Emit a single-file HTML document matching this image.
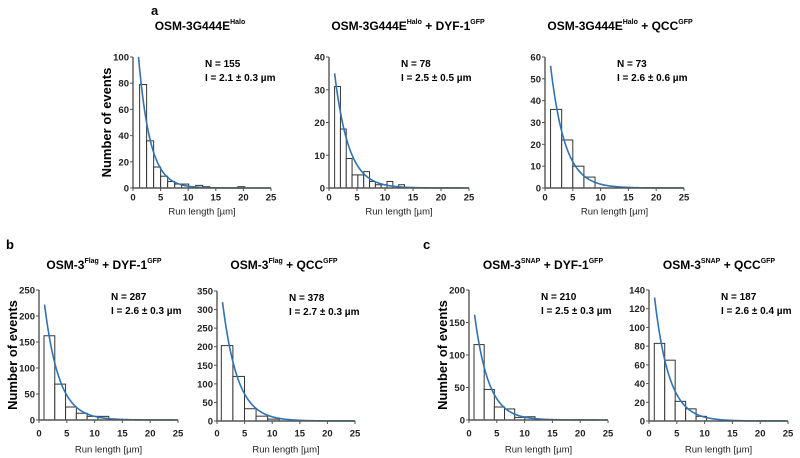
<!DOCTYPE html>
<html><head><meta charset="utf-8">
<style>
html,body{margin:0;padding:0;background:#fff;}
svg{display:block;font-family:"Liberation Sans",Arial,sans-serif;}
</style></head>
<body>
<svg id="fig" width="800" height="458" viewBox="0 0 800 458" xmlns="http://www.w3.org/2000/svg">
<text x="151" y="15" font-size="13" font-weight="bold">a</text>
<text x="6" y="249" font-size="13" font-weight="bold">b</text>
<text x="423" y="249" font-size="13" font-weight="bold">c</text>
</svg>
<script>
// ---- data ----
const panelIds = ["a1","a2","a3","b1","b2","c1","c2"];
const binStarts = [1.2, 1.0, 1.0, 0.9, 0.78, 0.9, 0.95];
const binWidths = [1.27, 1.04, 2.0, 1.94, 2.1, 1.83, 1.88];
const countsA1 = [79,36,16,9,5,3,3,1,2,1,0,0,0,0,1];
const countsA2 = [31,18,9,4,4,5,2,1,1,2,0,1];
const countsA3 = [36,22,10,5];
const countsB1 = [162,69,25,13,7,7];
const countsB2 = [203,120,33,13,5];
const countsC1 = [116,47,20,17,4,5];
const countsC2 = [83,65,21,13,5];
const fitStart = [100,35,56,222,320,162,132];
const fitLength = [2.1,2.5,2.6,2.6,2.7,2.5,2.6];
const yMax = [100,40,60,250,350,200,140];
const yStep = [20,10,10,50,50,50,20];
const xTicks = [0,5,10,15,20,25];
const nLabels = ["N = 155","N = 78","N = 73","N = 287","N = 378","N = 210","N = 187"];
const lLabels = ["I  = 2.1 ± 0.3 µm","I  = 2.5 ± 0.5 µm","I  = 2.6 ± 0.6 µm","I  = 2.6 ± 0.3 µm","I  = 2.7 ± 0.3 µm","I  = 2.5 ± 0.3 µm","I  = 2.6 ± 0.4 µm"];
const titleMain = ["OSM-3G444E","OSM-3G444E","OSM-3G444E","OSM-3","OSM-3","OSM-3","OSM-3"];
const titleSup1 = ["Halo","Halo","Halo","Flag","Flag","SNAP","SNAP"];
const titleMid = [""," + DYF-1"," +  QCC"," + DYF-1"," +  QCC"," + DYF-1"," +  QCC"];
const titleSup2 = ["","GFP","GFP","GFP","GFP","GFP","GFP"];
const allCounts = [countsA1,countsA2,countsA3,countsB1,countsB2,countsC1,countsC2];
// ---- layout (pixel geometry) ----
const geom = [
 {x0:133,x1:271,y0:188,y1:57,tx:200,ty:30,tl:197,rl:211,yl:true},
 {x0:329,x1:469,y0:188,y1:57,tx:408,ty:30,tl:197,rl:211,yl:false},
 {x0:545,x1:684,y0:188,y1:57,tx:620,ty:30,tl:197,rl:211,yl:false},
 {x0:39,x1:178,y0:420,y1:290,tx:104,ty:269,tl:433,rl:449,yl:true},
 {x0:217,x1:355,y0:421,y1:291,tx:284,ty:269,tl:433,rl:449,yl:false},
 {x0:469,x1:608,y0:420,y1:290,tx:543,ty:269,tl:433,rl:449,yl:true},
 {x0:649,x1:788,y0:421,y1:290,tx:719,ty:269,tl:433,rl:449,yl:false}
];
const NS="http://www.w3.org/2000/svg";
const svg=document.getElementById('fig');
function mk(tag,attrs,parent){const e=document.createElementNS(NS,tag);for(const k in attrs)e.setAttribute(k,attrs[k]);(parent||svg).appendChild(e);return e;}

panelIds.forEach((id,i)=>{
  const g=geom[i];
  const grp=mk('g',{});
  
  
  const xs=v=>g.x0+(g.x1-g.x0)*v/25;
  const ys=v=>g.y0-(g.y0-g.y1)*v/yMax[i];
  const t=mk('text',{x:g.tx,y:g.ty,'text-anchor':'middle','font-size':'12','font-weight':'bold','xml:space':'preserve'},grp);
  
  
  const s0=mk('tspan',{},t); s0.textContent=titleMain[i];
  const s1=mk('tspan',{dy:'-6','font-size':'7'},t); s1.textContent=titleSup1[i];
  if(titleMid[i]){const s2=mk('tspan',{dy:'6'},t); s2.textContent=titleMid[i];
    const s3=mk('tspan',{dy:'-6','font-size':'7'},t); s3.textContent=titleSup2[i];}
  allCounts[i].forEach((c,j)=>{
    if(c<=0)return;
    const xa=xs(binStarts[i]+j*binWidths[i]), xb=xs(binStarts[i]+(j+1)*binWidths[i]);
    const r=mk('rect',{x:xa,y:ys(c),width:xb-xa,height:g.y0-ys(c),fill:'#fff',stroke:'#333','stroke-width':'1'},grp);
    
    
  });
  let d='';
  for(let k=0;k<=120;k++){const x=1+24*k/120;const y=fitStart[i]*Math.exp(-(x-1)/fitLength[i]);d+=(k?'L':'M')+xs(x).toFixed(2)+' '+ys(y).toFixed(2);}
  const p=mk('path',{d:d,fill:'none',stroke:'#2f73b4','stroke-width':'1.6'},grp);
  
  
  const ax=mk('path',{d:`M${g.x0} ${g.y1}L${g.x0} ${g.y0}L${g.x1} ${g.y0}`,fill:'none',stroke:'#555','stroke-width':'1.4'},grp);
  
  
  for(let v=0;v<=yMax[i];v+=yStep[i]){
    mk('line',{x1:g.x0-3,x2:g.x0,y1:ys(v),y2:ys(v),stroke:'#555','stroke-width':'1'},grp);
    const tl=mk('text',{x:g.x0-4,y:ys(v)+3.5,'text-anchor':'end','font-size':'9.5','font-weight':'bold',fill:'#222'},grp);
    tl.textContent=v;
    
    
  }
  xTicks.forEach(v=>{
    mk('line',{x1:xs(v),x2:xs(v),y1:g.y0,y2:g.y0+3,stroke:'#555','stroke-width':'1'},grp);
    const tl=mk('text',{x:xs(v),y:g.tl+3.5,'text-anchor':'middle','font-size':'9.5','font-weight':'bold',fill:'#222'},grp);
    tl.textContent=v;
    
    
  });
  const xl=mk('text',{x:(g.x0+g.x1)/2,y:g.rl+3.5,'text-anchor':'middle','font-size':'9.5',fill:'#222'},grp);
  xl.textContent='Run length [µm]';
  
  
  if(g.yl){
    const cy=(g.y0+g.y1)/2, cx=g.x0-22;
    const yl=mk('text',{x:cx,y:cy,'text-anchor':'middle','font-size':'13','font-weight':'bold',transform:`rotate(-90 ${cx} ${cy})`},grp);
    yl.textContent='Number of events';
    
    
  }
  const n=mk('text',{x:g.x0+72,y:g.y1+10,'font-size':'10','font-weight':'bold','xml:space':'preserve'},grp);
  n.textContent=nLabels[i];
  
  
  const l=mk('text',{x:g.x0+72,y:g.y1+24,'font-size':'10','font-weight':'bold','xml:space':'preserve'},grp);
  l.textContent=lLabels[i];
  
  
});
</script>
</body></html>
